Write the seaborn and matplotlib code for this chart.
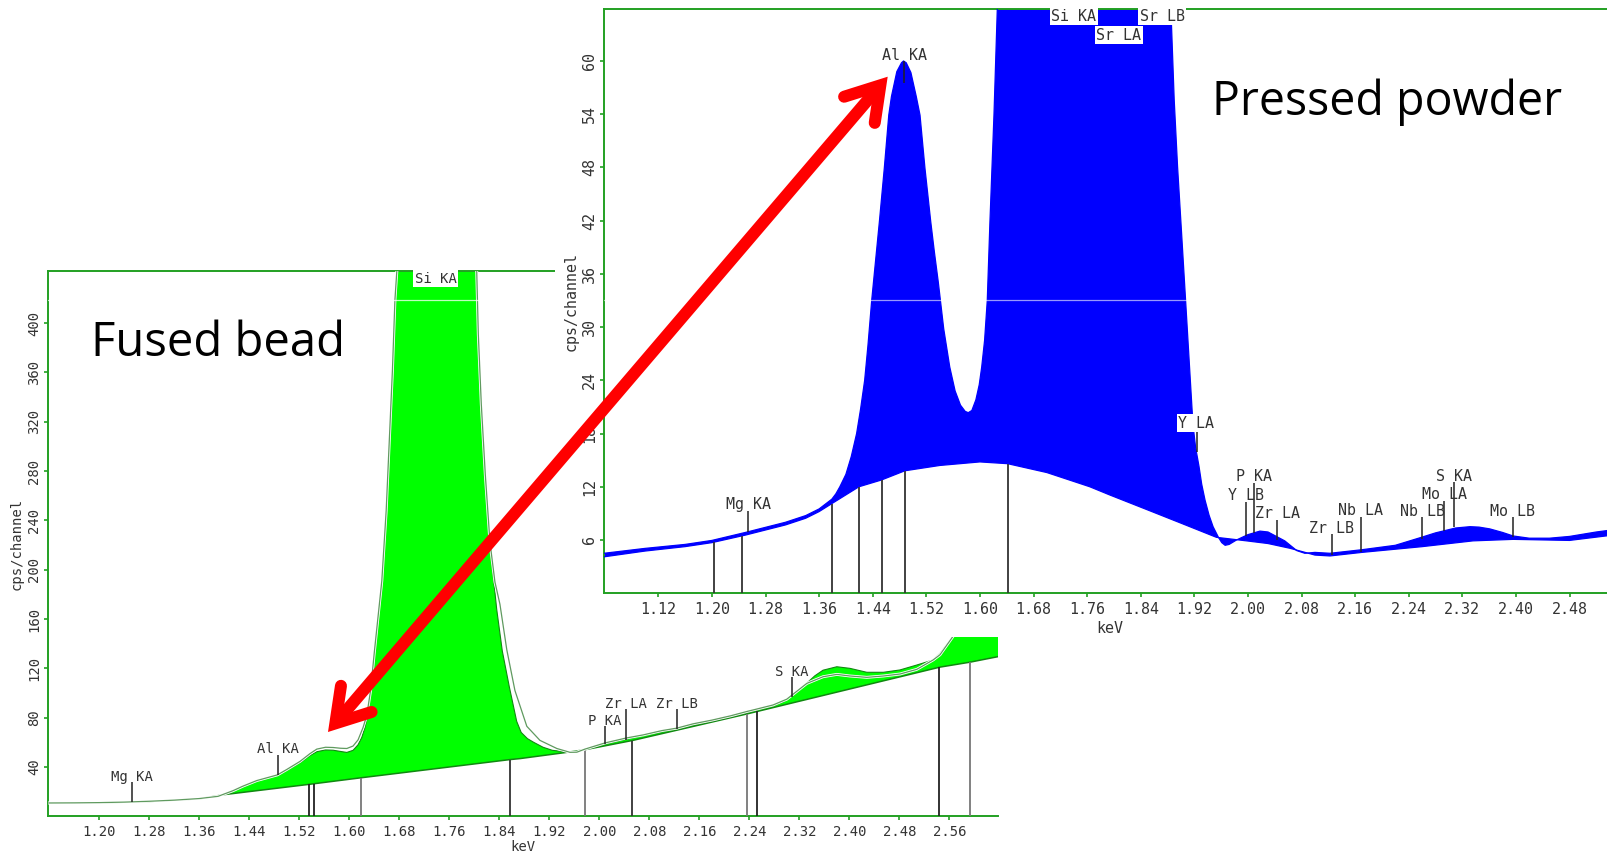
import numpy as np
import matplotlib
matplotlib.use("Agg")
import matplotlib.pyplot as plt
import matplotlib.patheffects as pe
from matplotlib.lines import Line2D
from matplotlib.patches import Rectangle
import seaborn as sns

# ---------------- data: fused bead (left panel) ----------------
fb_kev = [1.118, 1.16, 1.20, 1.24, 1.28, 1.32, 1.36, 1.39, 1.414, 1.43, 1.452, 1.47,
          1.485, 1.50, 1.521, 1.537, 1.548, 1.562, 1.574, 1.586, 1.596, 1.606, 1.614,
          1.620, 1.625, 1.628, 1.634, 1.640, 1.652, 1.659, 1.664, 1.669, 1.673, 1.676,
          1.69, 1.74, 1.79, 1.8038, 1.8064, 1.8112, 1.8176, 1.8251, 1.8358, 1.8448,
          1.856, 1.8678, 1.875, 1.885, 1.895, 1.91, 1.925, 1.948, 1.965, 1.977, 1.995,
          2.009, 2.025, 2.043, 2.07, 2.10, 2.124, 2.15, 2.18, 2.21, 2.236, 2.253, 2.278,
          2.295, 2.305, 2.32, 2.332, 2.345, 2.358, 2.380, 2.401, 2.428, 2.4545, 2.481,
          2.508, 2.534, 2.545, 2.566, 2.59, 2.615, 2.638]
fb_cps = [10.8, 10.9, 11.1, 11.5, 12.2, 13.1, 14.4, 16.2, 20.8, 24.5, 29.0, 31.5,
          33.6, 37.5, 43.5, 49.3, 52.4, 53.8, 53.6, 52.6, 51.8, 53.5, 58,
          64, 72, 79, 102, 133, 191, 248, 305, 362, 419, 442,
          520, 560, 520, 443, 391, 334, 277, 220, 168, 134,
          105, 77, 68, 63, 60, 56, 53.5, 52.2, 52.5, 54.3, 56.8,
          58.6, 60.5, 62.5, 65.5, 68.5, 71, 74, 77, 80.5, 84, 86.5, 89.5,
          93, 97, 103, 108, 114, 118.5, 121.3, 120, 116.8, 116.8, 118.7,
          122.7, 126.8, 132, 146, 165, 185, 200]

fb_bg_kev = [1.118, 1.20, 1.28, 1.36, 1.40, 1.5355, 1.618, 1.857, 1.873, 1.95, 1.977,
             2.053, 2.236, 2.545, 2.593, 2.638]
fb_bg_cps = [10.6, 10.9, 12.0, 14.2, 17.6, 25.9, 31.2, 46.0, 46.8, 52.0, 54.0,
             61.5, 83.0, 121.0, 125.0, 129.5]

fb_ref_kev = [1.118, 1.16, 1.20, 1.24, 1.28, 1.32, 1.36, 1.39, 1.414, 1.43, 1.452, 1.47,
              1.485, 1.50, 1.521, 1.537, 1.548, 1.562,
              1.574, 1.586, 1.596, 1.606, 1.614, 1.622, 1.628, 1.634, 1.640, 1.652,
              1.659, 1.664, 1.669, 1.673, 1.676, 1.69, 1.74, 1.79, 1.8038, 1.8064,
              1.8112, 1.8176, 1.8251, 1.833, 1.841, 1.852, 1.865, 1.884, 1.905, 1.932,
              1.953, 1.964, 1.977, 2.009, 2.043, 2.07, 2.10, 2.124, 2.15, 2.18, 2.21,
              2.236, 2.252, 2.278, 2.30, 2.31, 2.332, 2.358, 2.380, 2.401, 2.428,
              2.4545, 2.481, 2.508, 2.534, 2.545, 2.566, 2.59, 2.615, 2.638]
fb_ref_cps = [10.8, 10.9, 11.1, 11.5, 12.2, 13.1, 14.4, 16.2, 20.8, 24.5, 29.0, 31.5,
              33.6, 38.0, 44.5, 50.8, 54.5, 56.0,
              55.8, 55.2, 55.0, 57, 62, 72, 82, 102, 133, 191,
              248, 305, 362, 419, 442, 520, 560, 520, 443, 391,
              334, 277, 222, 190, 172, 135, 102, 73, 61.6, 55,
              51.9, 52.0, 54.5, 59.5, 63.5, 66, 69.5, 71.5, 75, 78, 81.5,
              85, 87, 90.3, 95, 99, 107.8, 113.2, 115.1, 113.8, 112.7,
              113.8, 115.4, 119.2, 126.8, 131, 146, 168, 190, 205]

fb_markers_kev = [1.5355, 1.544, 1.6182, 1.8571, 1.9771, 2.0528, 2.2358, 2.2528, 2.544, 2.5931]

fb_lines = ["Mg KA", "Al KA", "P KA", "Zr LA", "Zr LB", "S KA"]
fb_lines_kev = [1.2518, 1.4854, 2.0091, 2.0427, 2.1238, 2.3078]
fb_lines_lo = [11.8, 33.5, 58.7, 61.9, 70.8, 97.0]
fb_lines_hi = [27.6, 49.7, 73.5, 87.0, 86.8, 113.2]
fb_lines_txt = [28.6, 51.0, 74.0, 88.0, 88.0, 114.0]

fb_xticks = [1.20, 1.28, 1.36, 1.44, 1.52, 1.60, 1.68, 1.76, 1.84, 1.92, 2.00,
             2.08, 2.16, 2.24, 2.32, 2.40, 2.48, 2.56]
fb_yticks = [40, 80, 120, 160, 200, 240, 280, 320, 360, 400]

# ---------------- data: pressed powder (right panel) ----------------
pp_kev = [1.039, 1.10, 1.16, 1.20, 1.25, 1.31, 1.34, 1.36, 1.379, 1.385, 1.391, 1.40,
          1.408, 1.416, 1.422, 1.428, 1.433, 1.4385, 1.450, 1.4573, 1.464, 1.468,
          1.476, 1.483, 1.486, 1.490, 1.497, 1.505, 1.5106, 1.518, 1.5266, 1.532,
          1.538, 1.546, 1.555, 1.563, 1.571, 1.578, 1.5826, 1.588, 1.594, 1.599,
          1.6027, 1.607, 1.611, 1.615, 1.621, 1.626, 1.66, 1.70, 1.74, 1.80, 1.85,
          1.885, 1.890, 1.895, 1.901, 1.907, 1.918, 1.922, 1.927, 1.931, 1.936, 1.942,
          1.948, 1.956, 1.961, 1.966, 1.972, 1.983, 2.0, 2.018, 2.03, 2.045, 2.055,
          2.073, 2.085, 2.10, 2.1225, 2.17, 2.22, 2.259, 2.28, 2.31, 2.3315, 2.345,
          2.361, 2.38, 2.396, 2.42, 2.45, 2.48, 2.52, 2.55]
pp_cps = [4.5, 5.05, 5.5, 5.95, 6.85, 8.0, 8.75, 9.5, 10.6, 11.2, 12.0, 13.4,
          15.4, 18.0, 20.8, 24.0, 28.0, 33.0, 41.9, 47.9, 53.9, 56.0,
          58.8, 59.8, 60.0, 59.8, 58.7, 56.0, 53.9, 47.9, 41.9, 38.5,
          35.0, 29.8, 25.5, 22.8, 21.2, 20.5, 20.35, 20.6, 21.8, 23.5,
          25.5, 28.5, 33.0, 41.9, 53.9, 65.9, 140, 230, 260, 220, 130,
          66, 55.6, 48.1, 40.6, 33, 19, 16.4, 14.3, 12.3, 10.5, 8.8,
          7.5, 6.3, 5.7, 5.4, 5.5, 6.0, 6.6, 7.0, 6.9, 6.3, 5.9,
          4.8, 4.5, 4.6, 4.5, 4.9, 5.4, 6.3, 6.8, 7.35, 7.5, 7.45,
          7.25, 6.85, 6.45, 6.2, 6.2, 6.4, 6.9, 7.2]

pp_bg_kev = [1.039, 1.10, 1.16, 1.20, 1.25, 1.31, 1.34, 1.36, 1.379, 1.4195, 1.453,
             1.488, 1.54, 1.60, 1.6415, 1.70, 1.764, 1.794, 1.85, 1.90, 1.953, 1.998,
             2.03, 2.063, 2.10, 2.1225, 2.17, 2.259, 2.336, 2.396, 2.48, 2.55]
pp_bg_cps = [4.1, 4.75, 5.25, 5.7, 6.55, 7.7, 8.45, 9.2, 10.1, 12.0, 12.76,
             13.8, 14.4, 14.8, 14.6, 13.6, 12.0, 11.07, 9.4, 7.9, 6.3, 5.9,
             5.6, 5.06, 4.3, 4.2, 4.6, 5.24, 5.9, 6.07, 5.95, 6.6]

pp_markers_kev = [1.2036, 1.2445, 1.379, 1.4195, 1.4534, 1.488, 1.6415]

pp_lines = ["Mg KA", "Al KA", "P KA", "Y LB", "Zr LA", "Zr LB", "Nb LA", "Nb LB",
            "Mo LA", "S KA", "Mo LB"]
pp_lines_kev = [1.2543, 1.4872, 2.0091, 1.9967, 2.0439, 2.1251, 2.1684, 2.2603,
                2.2927, 2.3076, 2.3952]
pp_lines_lo = [6.93, 57.5, 6.8, 6.45, 6.0, 4.3, 4.7, 6.07, 7.05, 7.43, 6.3]
pp_lines_hi = [9.3, 60.0, 12.4, 10.3, 8.25, 6.64, 8.6, 8.55, 10.4, 12.57, 8.6]
pp_lines_txt = [9.45, 60.15, 12.6, 10.5, 8.44, 6.75, 8.8, 8.7, 10.6, 12.65, 8.75]

pp_boxed = ["Si KA", "Sr LB", "Sr LA", "Y LA"]
pp_boxed_kev = [1.7401, 1.8718, 1.8076, 1.9225]
pp_boxed_cps = [65.0, 65.0, 62.9, 19.15]
ya_tick_kev = 1.9245
ya_tick_lo, ya_tick_hi = 15.95, 18.3

pp_xticks = [1.12, 1.20, 1.28, 1.36, 1.44, 1.52, 1.60, 1.68, 1.76, 1.84, 1.92,
             2.00, 2.08, 2.16, 2.24, 2.32, 2.40, 2.48]
pp_yticks = [6, 12, 18, 24, 30, 36, 42, 48, 54, 60]

# ---------------- styling ----------------
sns.set_theme(style="white")
plt.rcParams["font.family"] = ["DejaVu Sans Mono", "DejaVu Sans"]

W, H = 1607, 856
fig = plt.figure(figsize=(W / 100, H / 100), dpi=100)
fig.patch.set_facecolor("white")

GREEN_AX = "#22a022"
TXT = "#333333"
FILL_G = "#00ff00"
EDGE_G = "#118811"
FILL_B = "#0000ff"


def fpos(x0, y0, x1, y1):
    """pixel box (image coords) -> figure fraction rect"""
    return [x0 / W, 1 - y1 / H, (x1 - x0) / W, (y1 - y0) / H]


def style_axes(ax, size):
    for s in ["top", "left", "bottom"]:
        ax.spines[s].set_color(GREEN_AX)
        ax.spines[s].set_linewidth(1.4)
    ax.spines["right"].set_visible(False)
    ax.tick_params(axis="both", which="major", bottom=True, left=True, direction="out",
                   length=3, width=1.2, color=GREEN_AX, labelcolor=TXT, labelsize=size)
    ax.tick_params(axis="x", pad=3.5)
    ax.tick_params(axis="y", pad=2, labelrotation=90)
    for lab in ax.get_yticklabels():
        lab.set_va("center")


# ---------------- left panel: fused bead ----------------
ax1 = fig.add_axes(fpos(48, 271, 998, 816.3), zorder=1)
ax1.set_facecolor("white")
ax1.fill(np.r_[fb_kev, fb_bg_kev[::-1]], np.r_[fb_cps, fb_bg_cps[::-1]],
         color=FILL_G, lw=0, zorder=2)
sns.lineplot(x=fb_kev, y=fb_cps, ax=ax1, color=EDGE_G, lw=0.8, zorder=3)
sns.lineplot(x=fb_bg_kev, y=fb_bg_cps, ax=ax1, color=EDGE_G, lw=1.1, zorder=3)
sns.lineplot(x=fb_ref_kev, y=fb_ref_cps, ax=ax1, color="#5f9a5f", lw=0.9, zorder=4,
             path_effects=[pe.Stroke(linewidth=2.1, foreground="white"), pe.Normal()])
ax1.axhline(418.5, color="white", lw=0.9, alpha=0.75, zorder=4)

tops = np.interp(fb_markers_kev, fb_bg_kev, fb_bg_cps)
shade = ["#222222", "#222222", "#777777", "#333333", "#777777", "#333333",
         "#777777", "#222222", "#222222", "#777777"]
for xk, t, c in zip(fb_markers_kev, tops, shade):
    ax1.vlines(xk, 0, t, color=c, lw=1.3, zorder=3)

for name, xk, lo, hi, ty in zip(fb_lines, fb_lines_kev, fb_lines_lo, fb_lines_hi, fb_lines_txt):
    ax1.vlines(xk, lo, hi, color="#222222", lw=1.1, zorder=5)
    ax1.text(xk, ty, name, ha="center", va="baseline", fontsize=10, color=TXT, zorder=6)
ax1.text(1.738, 436.2, "Si KA", ha="center", va="center", fontsize=10, color=TXT, zorder=6,
         bbox=dict(facecolor="white", edgecolor="none", pad=1.0))

ax1.set_xlim(1.1179, 2.6379)
ax1.set_ylim(0, 442.3)
ax1.set_xticks(fb_xticks)
ax1.set_xticklabels([f"{v:.2f}" for v in fb_xticks])
ax1.set_yticks(fb_yticks)
ax1.set_yticklabels([str(v) for v in fb_yticks])
style_axes(ax1, 10)
ax1.set_xlabel("keV", fontsize=10, color=TXT, va="center")
ax1.xaxis.set_label_coords(0.5, -0.0557)
ax1.set_ylabel("cps/channel", fontsize=10, color=TXT, va="center")
ax1.yaxis.set_label_coords(-0.0326, 0.5)
ax1.text(0.0455, 0.844, "Fused bead", transform=ax1.transAxes, ha="left", va="baseline",
         fontsize=34, family=["Open Sans", "DejaVu Sans"], color="black", zorder=7)

# cover: the pressed-powder screenshot sits on top of the fused-bead one
fig.add_artist(Rectangle((555 / W, 1 - 637 / H), 1.0, 637 / H, transform=fig.transFigure,
                         facecolor="white", edgecolor="none", zorder=2))

# ---------------- right panel: pressed powder ----------------
ax2 = fig.add_axes(fpos(604.3, 9, 1616, 593.2), zorder=3)
ax2.set_facecolor("white")
ax2.fill(np.r_[pp_kev, pp_bg_kev[::-1]], np.r_[pp_cps, pp_bg_cps[::-1]],
         color=FILL_B, lw=0, zorder=2)
sns.lineplot(x=pp_kev, y=pp_cps, ax=ax2, color=FILL_B, lw=0.9, zorder=3)
sns.lineplot(x=pp_bg_kev, y=pp_bg_cps, ax=ax2, color=FILL_B, lw=0.9, zorder=3)
ax2.axhline(33.05, color="white", lw=0.9, alpha=0.6, zorder=4)

tops2 = np.interp(pp_markers_kev, pp_bg_kev, pp_bg_cps)
for xk, t in zip(pp_markers_kev, tops2):
    ax2.vlines(xk, 0, t, color="#333333", lw=1.3, zorder=3)

for name, xk, lo, hi, ty in zip(pp_lines, pp_lines_kev, pp_lines_lo, pp_lines_hi, pp_lines_txt):
    ax2.vlines(xk, lo, hi, color="#222222", lw=1.1, zorder=5)
    ax2.text(xk, ty, name, ha="center", va="baseline", fontsize=10.8, color=TXT, zorder=6)
ax2.vlines(ya_tick_kev, ya_tick_lo, ya_tick_hi, color="#222222", lw=1.1, zorder=5)
for name, xk, yc in zip(pp_boxed, pp_boxed_kev, pp_boxed_cps):
    ax2.text(xk, yc, name, ha="center", va="center", fontsize=10.8, color=TXT, zorder=6,
             bbox=dict(facecolor="white", edgecolor="none", pad=1.0))

ax2.set_xlim(1.0394, 2.5494)
ax2.set_ylim(0, 65.86)
ax2.set_xticks(pp_xticks)
ax2.set_xticklabels([f"{v:.2f}" for v in pp_xticks])
ax2.set_yticks(pp_yticks)
ax2.set_yticklabels([str(v) for v in pp_yticks])
style_axes(ax2, 10.8)
ax2.set_xlabel("keV", fontsize=10.8, color=TXT, va="center")
ax2.xaxis.set_label_coords(0.5, -0.0596)
ax2.set_ylabel("cps/channel", fontsize=10.8, color=TXT, va="center")
ax2.yaxis.set_label_coords(-0.0329, 0.5)
ax2.text(0.6004, 0.8186, "Pressed powder", transform=ax2.transAxes, ha="left",
         va="baseline", fontsize=33.5, family=["Open Sans", "DejaVu Sans"], color="black",
         zorder=7)

# ---------------- red double-headed arrow (annotation) ----------------
tipA = np.array([328.0, 732.0])
tipB = np.array([887.7, 76.7])
lw_px = 12.0
lw_pt = lw_px * 72 / 100
half_ang = np.deg2rad(32)
back = (lw_px / 2) / np.sin(half_ang)
barb = 38.0


def to_fig(p):
    return p[0] / W, 1 - p[1] / H


u = (tipB - tipA) / np.linalg.norm(tipB - tipA)
vA = tipA + back * u
vB = tipB - back * u
sx, sy = zip(to_fig(vA), to_fig(vB))
fig.add_artist(Line2D(sx, sy, transform=fig.transFigure, color="#ff0000", lw=lw_pt,
                      solid_capstyle="butt", zorder=20))


def rot(v, a):
    c, s = np.cos(a), np.sin(a)
    return np.array([c * v[0] - s * v[1], s * v[0] + c * v[1]])


for v, d in [(vB, -u), (vA, u)]:
    p1 = v + barb * rot(d, half_ang)
    p2 = v + barb * rot(d, -half_ang)
    pts = [to_fig(p1), to_fig(v), to_fig(p2)]
    xs, ys = zip(*pts)
    fig.add_artist(Line2D(xs, ys, transform=fig.transFigure, color="#ff0000", lw=lw_pt,
                          solid_capstyle="round", solid_joinstyle="miter", zorder=20))

fig.savefig("out.png", dpi=100, facecolor="white")
